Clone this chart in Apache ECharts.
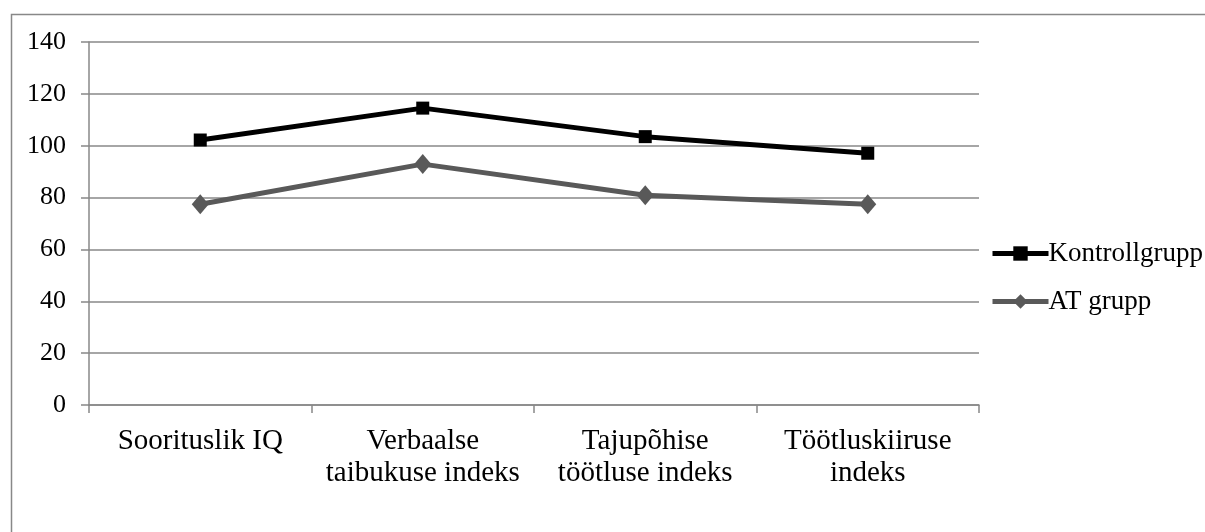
<!DOCTYPE html>
<html>
<head>
<meta charset="utf-8">
<script src="https://cdn.jsdelivr.net/npm/echarts@6/dist/echarts.min.js"></script>
<style>
  html, body { margin: 0; padding: 0; background: #fff; }
  #chart { width: 1205px; height: 532px; }
</style>
</head>
<body>
<div id="chart"></div>
<script>
  var categories = ['Soorituslik IQ', 'Verbaalse\ntaibukuse indeks', 'Tajupõhise\ntöötluse indeks', 'Töötluskiiruse\nindeks'];
  var kontrollgrupp = [102.2, 114.5, 103.5, 97.1];
  var atGrupp = [77.4, 92.9, 80.9, 77.4];

  var chartDom = document.getElementById('chart');
  var myChart = echarts.init(chartDom);
  var font = '"Liberation Serif", "Times New Roman", serif';
  var option;

  option = {
    animation: false,
    graphic: [
      {
        type: 'rect',
        left: 9,
        top: 12,
        shape: { width: 1220, height: 600 },
        style: { fill: 'none', stroke: '#888', lineWidth: 1.5 }
      }
    ],
    legend: {
      orient: 'vertical',
      left: 985,
      top: 235,
      itemWidth: 56,
      itemHeight: 18,
      itemGap: 21,
      textStyle: { fontFamily: font, fontSize: 27, color: '#000', padding: [0, 0, 0, -5] },
      data: [
        { name: 'Kontrollgrupp', lineStyle: { width: 5 } },
        { name: 'AT grupp', lineStyle: { width: 5 } }
      ]
    },
    grid: {
      left: 89,
      right: 226,
      top: 42,
      bottom: 127
    },
    xAxis: {
      type: 'category',
      data: categories,
      boundaryGap: true,
      axisLine: { lineStyle: { color: '#888', width: 1.5 } },
      axisTick: { show: true, interval: 0, length: 8, lineStyle: { color: '#888', width: 1.5 } },
      axisLabel: {
        interval: 0,
        fontFamily: font,
        fontSize: 29,
        color: '#000',
        margin: 20,
        lineHeight: 32
      }
    },
    yAxis: {
      type: 'value',
      min: 0,
      max: 140,
      interval: 20,
      axisLine: { show: true, lineStyle: { color: '#888', width: 1.5 } },
      axisTick: { show: true, length: 8, lineStyle: { color: '#888', width: 1.5 } },
      axisLabel: { fontFamily: font, fontSize: 26, color: '#000', margin: 23 },
      splitLine: { lineStyle: { color: '#888', width: 1.5 } }
    },
    series: [
      {
        name: 'Kontrollgrupp',
        type: 'line',
        data: kontrollgrupp,
        symbol: 'rect',
        symbolSize: 13,
        lineStyle: { color: '#000', width: 5 },
        itemStyle: { color: '#000' }
      },
      {
        name: 'AT grupp',
        type: 'line',
        data: atGrupp,
        symbol: 'diamond',
        symbolSize: [17, 20],
        lineStyle: { color: '#595959', width: 5 },
        itemStyle: { color: '#595959' }
      }
    ]
  };
  option && myChart.setOption(option);
</script>
</body>
</html>
